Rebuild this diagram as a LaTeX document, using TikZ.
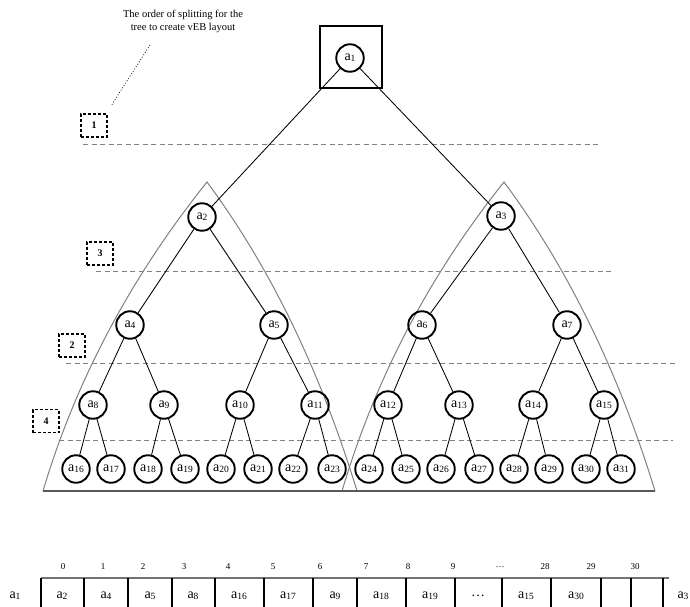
\documentclass[tikz,border=0pt]{standalone}
\usepackage{fontspec}
\setmainfont{Liberation Serif}
% label of a tree element: letter a with a small index
\newcommand\aname[1]{a\raisebox{-1.2pt}{\fontsize{9.5}{9.5}\selectfont #1}}
\begin{document}
\begin{tikzpicture}[x=1pt,y=-1pt,
  vnode/.style={circle, draw, line width=1.9pt, minimum size=27.5pt, inner sep=0pt,
                font=\fontsize{14}{14}\selectfont},
  tedge/.style={line width=0.85pt},
  splitline/.style={draw=gray, dash pattern=on 5pt off 3.5pt, line width=0.8pt},
  orderbox/.style={draw, dash pattern=on 3pt off 2pt, line width=1.1pt, minimum width=26pt,
                   minimum height=23pt, inner sep=0pt, font=\fontsize{10}{10}\selectfont\bfseries},
  subtree/.style={draw=gray, line width=1pt},
  subbase/.style={draw=black!65, line width=1.3pt},
  cell/.style={font=\fontsize{14}{14}\selectfont, inner sep=0pt},
  idx/.style={font=\fontsize{9}{9}\selectfont, inner sep=0pt}
]
\useasboundingbox (0,0) rectangle (690,607);

% caption of the split order
\node[font=\fontsize{10.5}{13}\selectfont, align=center] (note) at (183,21)
  {The order of splitting for the\\tree to create vEB layout};
\coordinate (noteA) at (150,45);
\coordinate (noteB) at (111,106);
\draw[dotted, line width=0.8pt] (noteA) -- (noteB);

% numbered split levels
\node[orderbox] (o1) at (94,125.5) {1};
\node[orderbox] (o3) at (100,253.5) {3};
\node[orderbox] (o2) at (72,345.5) {2};
\node[orderbox] (o4) at (46,421) {4};
\draw[splitline] (83,144) -- (600,144);
\draw[splitline] (96,271) -- (611,271);
\draw[splitline] (66,363) -- (675,363);
\draw[splitline] (59,440) -- (673,440);

% the two lower subtrees
\draw[subtree] (43,491) .. controls (76,380) and (131,277) .. (207,182)
               .. controls (270,267) and (320,370) .. (357,491);
\draw[subtree] (342,491) .. controls (375,380) and (428,277) .. (504,182)
               .. controls (567,267) and (618,370) .. (655,491);
\draw[subbase] (43,491) -- (357,491);
\draw[subbase] (342,491) -- (655,491);

% tree nodes
\node[vnode] (a1) at (350,58) {\aname{1}};
\node[draw, line width=2.2pt, minimum size=62pt, inner sep=0pt] (rootbox) at (351,57) {};
\node[vnode] (a2) at (202,217) {\aname{2}};
\node[vnode] (a3) at (501,216) {\aname{3}};
\node[vnode] (a4) at (130,325) {\aname{4}};
\node[vnode] (a5) at (274,325) {\aname{5}};
\node[vnode] (a6) at (422,325) {\aname{6}};
\node[vnode] (a7) at (567,325) {\aname{7}};
\foreach \n/\x in {8/93,9/164,10/240,11/315,12/388,13/459,14/533,15/604}
  \node[vnode] (a\n) at (\x,405) {\aname{\n}};
\foreach \n/\x in {16/76,17/111,18/148,19/185,20/221,21/258,22/293,23/332,
                   24/369,25/406,26/441,27/479,28/514,29/549,30/586,31/621}
  \node[vnode] (a\n) at (\x,469) {\aname{\n}};

% tree edges
\draw[tedge] (a1) -- (a2);
\draw[tedge] (a1) -- (a3);
\foreach \p/\l/\r in {2/4/5,3/6/7,4/8/9,5/10/11,6/12/13,7/14/15,
                      8/16/17,9/18/19,10/20/21,11/22/23,12/24/25,13/26/27,14/28/29,15/30/31}{
  \draw[tedge] (a\p) -- (a\l);
  \draw[tedge] (a\p) -- (a\r);
}

% array with the vEB order
\draw[draw=black!55, line width=1.6pt] (41,578) -- (669,578);
\foreach \x in {41,84,128,172,215,264,313,357,406,455,502,551,601,631,663}
  \draw[line width=1.5pt] (\x,578) -- (\x,607);
\node[cell] (c1) at (15,596) {\aname{1}};
\node[cell] (c3) at (683,596) {\aname{3}};
\foreach \t/\x [count=\i] in {2/62,4/106,5/150,8/193,16/239,17/288,9/335,18/381,19/430}
  \node[cell] (cell\i) at (\x,596) {\aname{\t}};
\node[cell] (cdots) at (478,596) {\dots};
\node[cell] (cell15) at (526,596) {\aname{15}};
\node[cell] (cell30) at (576,596) {\aname{30}};
\foreach \t/\x [count=\i] in {0/63,1/103,2/143,3/184,4/228,5/273,6/320,7/366,8/408,9/453,
                              {\dots}/500,28/545,29/591,30/635}
  \node[idx] (i\i) at (\x,567) {\t};
\end{tikzpicture}
\end{document}
